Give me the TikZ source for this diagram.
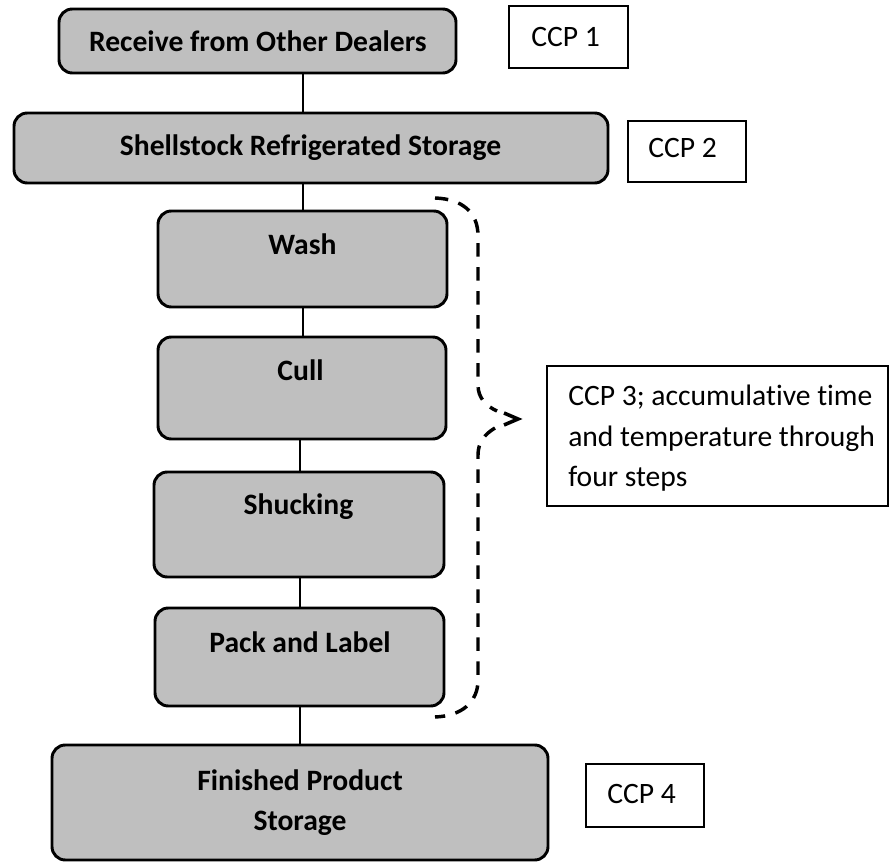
\documentclass[tikz,border=0pt]{standalone}
\usepackage{fontspec}
\setmainfont{Carlito}[RawFeature={-liga;-clig;-calt;-dlig}]
\definecolor{boxgray}{RGB}{191,191,191}
\begin{document}
\begin{tikzpicture}[x=0.75pt,y=-0.75pt,
  proc/.style={draw=black, line width=2.2pt, fill=boxgray, rounded corners=10pt, inner sep=0pt},
  ccpbox/.style={draw=black, line width=1.4pt, fill=white, inner sep=0pt},
  btext/.style={font=\fontsize{22.2}{30}\selectfont\bfseries, inner sep=0pt, anchor=base},
  rtext/.style={font=\fontsize{22.2}{30}\selectfont, inner sep=0pt, anchor=base west},
  link/.style={line width=1.2pt},
  bracestyle/.style={line width=2.6pt, dash pattern=on 10pt off 8pt},
  tipstyle/.style={line width=2.7pt, miter limit=10}]
\useasboundingbox (0,0) rectangle (889,862);

% process boxes
\node[proc, minimum width=297.75pt, minimum height=48pt] (recv) at (257.5,41) {};
\node[proc, minimum width=445.5pt, minimum height=52.5pt] (shell) at (311,148) {};
\node[proc, minimum width=216.75pt, minimum height=72pt] (wash) at (302.5,259) {};
\node[proc, minimum width=216pt, minimum height=76.5pt] (cull) at (302,388) {};
\node[proc, minimum width=217.5pt, minimum height=78.75pt] (shuck) at (299,524.5) {};
\node[proc, minimum width=216.75pt, minimum height=73.5pt] (pack) at (299.5,657) {};
\node[proc, minimum width=372pt, minimum height=86.25pt] (fin) at (300,802.5) {};

% CCP boxes
\node[ccpbox, minimum width=89.25pt, minimum height=46.5pt] (ccp1) at (568.5,37) {};
\node[ccpbox, minimum width=88.5pt, minimum height=45.75pt] (ccp2) at (687,151.5) {};
\node[ccpbox, minimum width=255.75pt, minimum height=105pt] (ccp3) at (717.5,436) {};
\node[ccpbox, minimum width=88.5pt, minimum height=47.25pt] (ccp4) at (645,795.5) {};

% texts
\node[btext] (trecv) at (258,52) {Receive from Other Dealers};
\node[btext] (tshell) at (310.5,156) {Shellstock Refrigerated Storage};
\node[btext] (twash) at (302.5,255) {Wash};
\node[btext] (tcull) at (300.5,381) {Cull};
\node[btext] (tshuck) at (298.5,515) {Shucking};
\node[btext] (tpack) at (300,652) {Pack and Label};
\node[btext] (tfina) at (300,790) {Finished Product};
\node[btext] (tfinb) at (300,830) {Storage};
\node[rtext] (tccp1) at (531,46.5) {CCP 1};
\node[rtext] (tccp2) at (648,158) {CCP 2};
\node[rtext] (tccp3a) at (568,406) {CCP 3; accumulative time};
\node[rtext] (tccp3b) at (568,447) {and temperature through};
\node[rtext] (tccp3c) at (568,487) {four steps};
\node[rtext] (tccp4) at (607,803) {CCP 4};

% connectors
\coordinate (xa) at (303,0);
\coordinate (xb) at (300,0);
\draw[link] (recv.south -| xa) -- (shell.north -| xa);
\draw[link] (shell.south -| xa) -- (wash.north -| xa);
\draw[link] (wash.south -| xa) -- (cull.north -| xa);
\draw[link] (cull.south -| xb) -- (shuck.north -| xb);
\draw[link] (shuck.south -| xb) -- (pack.north -| xb);
\draw[link] (pack.south -| xb) -- (fin.north -| xb);

% dashed brace
\draw[bracestyle] (435,198) .. controls (462,199) and (478,212) .. (478,236)
  -- (478,385) .. controls (478,398) and (486,406) .. (497,411);
\draw[tipstyle] (504,413) -- (518,419) -- (504,425);
\draw[bracestyle] (495,428) .. controls (485,434) and (478,442) .. (478,455)
  -- (478,680) .. controls (478,702) and (462,716) .. (435,717);
\end{tikzpicture}
\end{document}
